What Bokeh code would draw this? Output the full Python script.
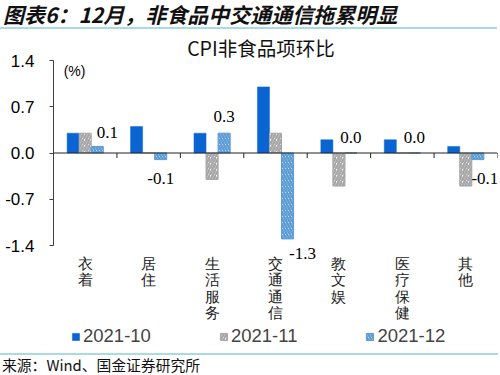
from bokeh.plotting import figure
from bokeh.models import (Range1d, FixedTicker, NumeralTickFormatter, Span, Legend, LegendItem,
                          LabelSet, Label, ColumnDataSource, Div)
from bokeh.layouts import column
from bokeh.embed import file_html
from bokeh.resources import INLINE

categories = ["衣着", "居住", "生活服务", "交通通信", "教文娱", "医疗保健", "其他"]
series_names = ["2021-10", "2021-11", "2021-12"]
v_2021_10 = [0.3, 0.4, 0.3, 1.0, 0.2, 0.2, 0.1]
v_2021_11 = [0.3, 0.0, -0.4, 0.3, -0.5, 0.0, -0.5]
v_2021_12 = [0.1, -0.1, 0.3, -1.3, 0.0, 0.0, -0.1]
y_ticks = [-1.4, -0.7, 0.0, 0.7, 1.4]

# label pixel offsets (style only)
lab_dx = [10, 0, 0, 15, 0, 0, 7]
lab_dy = [14, -19, 17, -15, 16, 16, -19]

n = len(categories)
centers = [i + 0.5 for i in range(n)]
bw = 0.19

blue = "#0a64d2"
gray = "#a6a6a6"
lblue = "#5b9bd5"
styles = [dict(fill_color=blue, line_color=blue, line_width=0.5),
          dict(fill_color="white", line_color=gray, line_width=1,
               hatch_pattern="right_diagonal_line", hatch_color=gray, hatch_weight=2.5, hatch_scale=6),
          dict(fill_color="white", line_color=lblue, line_width=1,
               hatch_pattern="left_diagonal_line", hatch_color=lblue, hatch_weight=2.5, hatch_scale=6)]

# layout in pixels: axis span height, space above and below it inside the frame
FIG_H = 294
AXIS_PX = 185.0
TOP_PX = 29.0
BOT_PX = FIG_H - AXIS_PX - TOP_PX
upp = (y_ticks[-1] - y_ticks[0]) / AXIS_PX  # data units per pixel
y_lo = y_ticks[0] - BOT_PX * upp
y_hi = y_ticks[-1] + TOP_PX * upp

p = figure(width=500, height=FIG_H, output_backend="svg", toolbar_location=None,
           x_range=Range1d(0, n), y_range=Range1d(y_lo, y_hi), x_axis_type=None,
           min_border_left=53, min_border_right=3, min_border_top=0, min_border_bottom=0)
p.outline_line_color = None
p.xgrid.visible = False
p.ygrid.visible = False
p.background_fill_color = "white"
p.border_fill_color = "white"

# y axis
p.yaxis.bounds = (y_ticks[0], y_ticks[-1])
p.yaxis.ticker = FixedTicker(ticks=y_ticks)
p.yaxis.formatter = NumeralTickFormatter(format="0.0")
p.yaxis.major_label_text_font = "Liberation Sans"
p.yaxis.major_label_text_font_size = "17px"
p.yaxis.major_label_text_color = "black"
p.yaxis.axis_line_color = "#404040"
p.yaxis.major_tick_line_color = "#404040"
p.yaxis.major_tick_out = 4
p.yaxis.major_tick_in = 0
p.yaxis.minor_tick_line_color = None
p.yaxis.major_label_standoff = 15

# category labels: one character per row, stacked vertically below the axis area
cx, cy, ctext, coff = [], [], [], []
for c, lab in zip(centers, categories):
    for k, ch in enumerate(lab):
        cx.append(c)
        cy.append(y_ticks[0])
        ctext.append(ch)
        coff.append(-(18 + 16.5 * k))
p.add_layout(LabelSet(x="x", y="y", text="t", y_offset="o",
                      source=ColumnDataSource(dict(x=cx, y=cy, t=ctext, o=coff)),
                      text_align="center", text_baseline="middle",
                      text_font="Noto Sans CJK SC", text_font_size="15px", text_color="#222222"))

src = ColumnDataSource(dict(
    x10=[c - bw for c in centers], x11=centers, x12=[c + bw for c in centers],
    v10=v_2021_10, v11=v_2021_11, v12=v_2021_12,
    dx=lab_dx, dy=lab_dy, lab=["%.1f" % v for v in v_2021_12]))

p.vbar(x="x10", top="v10", bottom=0, width=bw, source=src, **styles[0])
p.vbar(x="x11", top="v11", bottom=0, width=bw, source=src, **styles[1])
p.vbar(x="x12", top="v12", bottom=0, width=bw, source=src, **styles[2])

# zero line and category boundary ticks
p.add_layout(Span(location=0, dimension="width", line_color="#222222", line_width=1))
p.segment(x0=list(range(1, n + 1)), y0=[0] * n, x1=list(range(1, n + 1)), y1=[-5 * upp] * n,
          line_color="#222222", line_width=1)

# data labels for 2021-12
p.add_layout(LabelSet(x="x12", y="v12", text="lab", source=src, x_offset="dx", y_offset="dy",
                      text_align="center", text_baseline="middle",
                      text_font="Liberation Sans", text_font_size="17px", text_color="black"))

# unit and chart title
p.add_layout(Label(x=0.16, y=y_ticks[-1], y_offset=-10, text="(%)", text_align="left",
                   text_baseline="middle", text_font="Liberation Sans", text_font_size="14px",
                   text_color="black"))
p.add_layout(Label(x=3.27, y=y_ticks[-1], y_offset=13, text="CPI非食品项环比", text_align="center",
                   text_baseline="middle", text_font="Noto Sans CJK SC", text_font_size="19.5px",
                   text_color="#111111"))

# legend strip
lg = figure(width=500, height=28, output_backend="svg", toolbar_location=None,
            x_range=Range1d(0, 1), y_range=Range1d(0, 1), x_axis_type=None, y_axis_type=None,
            min_border=0)
lg.outline_line_color = None
lg.xgrid.visible = False
lg.ygrid.visible = False
offscreen = ColumnDataSource(dict(x=[-5], top=[-5]))
lrs = [lg.vbar(x="x", top="top", bottom=-6, width=0.1, source=offscreen, **s) for s in styles]
legend = Legend(items=[LegendItem(label=nm, renderers=[r]) for nm, r in zip(series_names, lrs)],
                orientation="horizontal", location=(18, 6), spacing=68, padding=0, margin=0,
                glyph_width=9, glyph_height=9, label_standoff=3,
                label_text_font="Liberation Sans", label_text_font_size="18.5px",
                border_line_color=None, background_fill_alpha=0)
lg.add_layout(legend)

header = Div(text='<div style="font-family:\'Noto Sans CJK SC\'; font-weight:bold; font-style:italic; '
                  'font-size:21px; line-height:29px; color:#111; padding-left:3px; height:29px; '
                  'overflow:visible; white-space:nowrap; '
                  'border-bottom:2px solid #a9dbe4; width:497px;">图表6：12月，非食品中交通通信拖累明显</div>',
             width=500, height=31, margin=0)
footer = Div(text='<div style="font-family:\'Noto Sans CJK SC\'; font-size:14.8px; line-height:19px; color:#111; '
                  'border-top:2px solid #a9dbe4; width:498px; padding-left:2px; height:20px;">来源：Wind、国金证券研究所</div>',
             width=500, height=22, margin=0)

layout = column(header, p, lg, footer, spacing=0)
open("out.html", "w").write(file_html(layout, INLINE))
